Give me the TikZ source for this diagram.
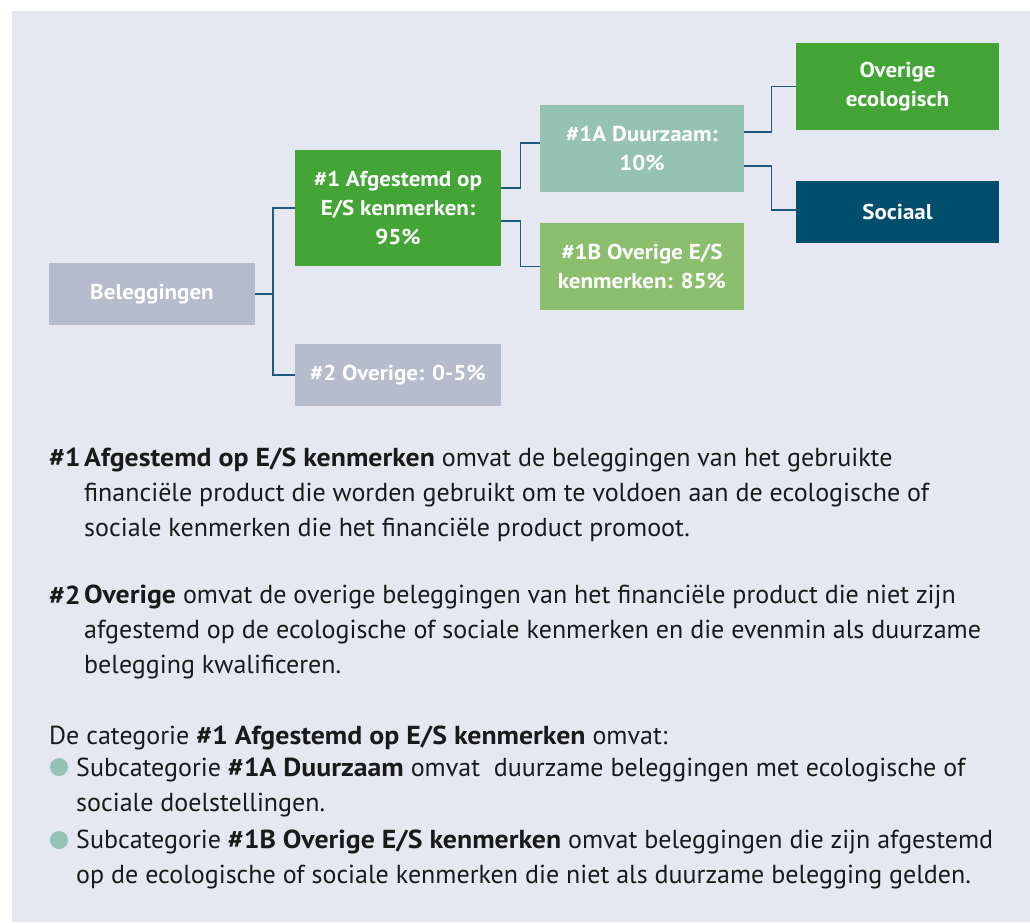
\documentclass[tikz,border=0pt]{standalone}
\usepackage{fontspec}
\setmainfont{PT Sans}[BoldFeatures={FakeStretch=1.07}]
\usepackage{xcolor}
\usetikzlibrary{positioning,calc}
\definecolor{panelbg}{HTML}{E5E8F0}
\definecolor{boxgray}{HTML}{B5BCCD}
\definecolor{esgreen}{HTML}{42A535}
\definecolor{susteal}{HTML}{95C2B3}
\definecolor{othgreen}{HTML}{8BBF6E}
\definecolor{socnavy}{HTML}{004E6E}
\definecolor{linkblue}{HTML}{1F5A80}
\definecolor{bodyink}{HTML}{1A1A1A}
\tikzset{
  catbox/.style = {rectangle, inner sep=0pt, text=white, align=center,
                   font=\fontsize{21.5}{29}\selectfont\bfseries},
  link/.style   = {draw=linkblue, line width=1.4pt},
  para/.style   = {anchor=base west, align=left, inner sep=0pt, text=bodyink,
                   font=\fontsize{26}{35}\selectfont},
  dot/.style    = {circle, fill=susteal, inner sep=0pt, minimum size=18pt},
}

\begin{document}
\begin{tikzpicture}[x=1pt,y=-1pt]
\useasboundingbox (0,0) rectangle (1030,922);
\fill[panelbg] (12,11) rectangle (1030,922);

%── allocation tree ───────────────────────────────────────────────
\node[catbox, fill=boxgray, minimum width=206pt, minimum height=62pt]
  (beleg) at (152,294) {Beleggingen};
\node[catbox, fill=esgreen, minimum width=206pt, minimum height=116pt]
  (afg) at (398,208) {\#1 Afgestemd op\\E/S kenmerken:\\95\%};
\node[catbox, fill=boxgray, minimum width=206pt, minimum height=62pt]
  (ovr) at (398,375) {\#2 Overige: 0-5\%};
\node[catbox, fill=susteal, minimum width=204pt, minimum height=87pt]
  (duur) at (642,148.5) {\#1A Duurzaam:\\10\%};
\node[catbox, fill=othgreen, minimum width=204pt, minimum height=87pt]
  (oves) at (642,266.5) {\#1B Overige E/S\\kenmerken: 85\%};
\node[catbox, fill=esgreen, minimum width=203pt, minimum height=87pt]
  (eco) at (897.5,86.5) {Overige\\ecologisch};
\node[catbox, fill=socnavy, minimum width=203pt, minimum height=62pt]
  (soc) at (897.5,212) {Sociaal};

% elbow connectors
\coordinate (j0) at (273,294);
\draw[link] (beleg.east) -- (j0) |- (afg.west);
\draw[link] (j0) |- (ovr.west);
\draw[link] ([yshift=20pt]afg.east) -- ++(19,0) |- ([yshift=5.5pt]duur.west);
\draw[link] ([yshift=-13pt]afg.east) -- ++(19,0) |- (oves.west);
\draw[link] ([yshift=16.5pt]duur.east) -- ++(27,0) |- (eco.west);
\draw[link] ([yshift=-17.5pt]duur.east) -- ++(27,0) |- ([yshift=2pt]soc.west);

%── explanatory text (base = last line) ───────────────────────────
\node[para] (lab1) at (49,466) {\textbf{\#1}};
\node[para] (txt1) at (84,536)
  {\textbf{Afgestemd op E/S kenmerken} omvat de beleggingen van het gebruikte\\
   financiële product die worden gebruikt om te voldoen aan de ecologische of\\
   sociale kenmerken die het financiële product promoot.};
\node[para] (lab2) at (49,604) {\textbf{\#2}};
\node[para] (txt2) at (84,673)
  {\textbf{Overige} omvat de overige beleggingen van het financiële product die niet zijn\\
   afgestemd op de ecologische of sociale kenmerken en die evenmin als duurzame\\
   belegging kwalificeren.};
\node[para] (cat) at (49,744)
  {De categorie \textbf{\#1 Afgestemd op E/S kenmerken} omvat:};
\node[dot] (dotA) at (59,767) {};
\node[para] (subA) at (76,811)
  {Subcategorie \textbf{\#1A Duurzaam} omvat \ duurzame beleggingen met ecologische of\\
   sociale doelstellingen.};
\node[dot] (dotB) at (59,840) {};
\node[para] (subB) at (76,883)
  {Subcategorie \textbf{\#1B Overige E/S kenmerken} omvat beleggingen die zijn afgestemd\\
   op de ecologische of sociale kenmerken die niet als duurzame belegging gelden.};

\end{tikzpicture}
\end{document}
